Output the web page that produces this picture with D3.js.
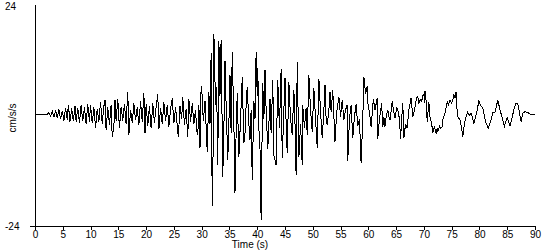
<!DOCTYPE html>
<html>
<head>
<meta charset="utf-8">
<script src="https://cdnjs.cloudflare.com/ajax/libs/d3/7.8.5/d3.min.js"></script>
<style>
  body { margin: 0; background: #fff; }
  svg text { font-family: "Liberation Sans", Arial, sans-serif; font-size: 10px; fill: #000; }
</style>
</head>
<body>
<svg id="chart" width="550" height="250"></svg>
<script>
// time (s) and acceleration (cm/s/s)
var times = [
  0, 2.2, 2.5, 2.8, 3.1, 3.4, 3.7, 4.0, 4.3, 4.6, 4.9, 5.2, 5.5, 5.8, 6.0, 6.3, 6.6, 6.9, 7.2, 7.4,
  7.7, 8.0, 8.3, 8.6, 8.9, 9.2, 9.5, 9.8, 10.0,
  10.3, 10.6, 10.9, 11.2, 11.5, 11.8, 12.1, 12.4, 12.6, 12.8, 13.1, 13.4, 13.7, 13.9, 14.2, 14.4, 14.6, 14.9, 15.2, 15.5,
  15.8, 16.1, 16.4, 16.7, 16.9, 17.2, 17.5, 17.8, 18.1, 18.4, 18.7, 19.0, 19.3, 19.6, 19.8, 20.0,
  20.3, 20.6, 20.9, 21.2, 21.5, 21.8, 22.1, 22.3, 22.6, 22.9, 23.2, 23.5, 23.8, 24.1, 24.4, 24.7, 25.0, 25.3,
  25.6, 25.8, 26.1, 26.4, 26.6, 26.9, 27.2, 27.5, 27.7, 28.0, 28.3, 28.6, 28.9, 29.1, 29.3, 29.5, 29.7, 29.9,
  30.0, 30.3, 30.6, 31.0, 31.3, 31.5, 31.7, 31.9, 32.0, 32.2, 32.5, 32.7, 32.9, 33.1, 33.3, 33.5, 33.8, 34.0,
  34.2, 34.4, 34.7, 34.9, 35.1, 35.3, 35.5, 35.8, 36.0, 36.2, 36.4, 36.7, 37.0, 37.3, 37.6, 37.8, 38.0, 38.2,
  38.5, 38.7, 38.9, 39.1, 39.4, 39.6, 39.8, 40.0, 40.1, 40.3, 40.5, 40.7, 40.9, 41.0, 41.2, 41.4, 41.6, 41.9,
  42.1, 42.3, 42.5, 42.8, 43.0, 43.4, 43.7, 44.0, 44.3, 44.5, 44.8, 45.0, 45.2, 45.4, 45.7, 46.0, 46.3, 46.6,
  46.8, 47.0, 47.2, 47.5, 47.8, 48.1, 48.2, 48.5, 48.8, 49.0, 49.3, 49.6, 49.9, 50.2, 50.5, 50.8, 51.1, 51.4,
  51.7, 52.0, 52.2, 52.4, 52.6, 52.9, 53.1, 53.3, 53.6, 54.0, 54.3, 54.7, 55.0, 55.3, 55.6, 55.9, 56.2, 56.3,
  56.6, 56.9, 57.2, 57.5, 57.8, 58.1, 58.4, 58.7, 59.0, 59.2, 59.5, 59.8, 59.9,
  60.2, 60.5, 60.9, 61.2, 61.6, 61.7, 62.0, 62.4, 62.6, 62.8, 63.0, 63.2, 63.5, 63.7, 63.9, 64.3, 64.6, 64.8,
  65.1, 65.4, 65.6, 65.8, 66.0, 66.2, 66.4, 66.7, 67.0, 67.3, 67.7, 68.0, 68.3, 68.7, 68.9, 69.1, 69.3, 69.6,
  69.8, 70.0, 70.1, 70.2, 70.4, 70.6, 70.9, 71.1, 71.4, 71.6, 71.9, 72.2, 72.4, 72.5, 72.8, 73.0, 73.3, 73.4,
  73.8, 74.2, 74.4, 74.7, 75.0, 75.2, 75.4, 75.6, 75.8, 76.0, 76.1, 76.5, 76.8, 77.0, 77.3, 77.6, 77.9, 78.2,
  78.5, 79.0, 79.3, 79.6, 79.9, 80.2, 80.6, 81.1, 81.6, 82.0, 82.4, 82.8, 83.0, 83.3, 83.7, 84.1, 84.5, 85.0,
  85.5, 86.0, 86.3, 86.6, 86.9, 87.2, 87.5, 87.8, 88.2, 88.6, 89.1, 90.0
];
var accel = [
  0, 0, 0.4, -0.4, 0.7, -0.6, 0.9, -0.8, 1.1, -1.0, 0.8, -1.3, 1.4, -1.1, 2.1, -1.5, 1.3, -1.4, 1.8, -1.5,
  1.4, -1.8, 2.0, -1.4, 1.6, -2.0, 2.2, -1.6, 2.0,
  -1.9, 1.6, -2.9, 1.2, -1.5, 2.7, -2.0, 1.8, 3.1, -3.4, 1.5, -2.2, 2.0, -4.9, -2.5, 3.1, -1.5, 3.4, -2.9, 1.6,
  -1.3, 2.2, -2.0, 4.9, -4.4, 1.0, -1.8, 2.4, -1.2, 1.5, -2.3, 2.9, -1.6, 4.6, -4.0, 2.2,
  -2.4, 1.8, -3.0, 2.5, -1.8, 1.6, 4.4, -3.2, 1.4, -2.0, 2.6, -1.4, 2.0, -2.6, 1.2, 3.5, -1.9, 1.5,
  -2.4, -4.9, 1.8, -1.0, 3.8, -2.2, 1.2, -4.9, 3.3, -1.5, 2.4, -2.0, 1.0, -3.4, -4.4, 2.0, -7.2, 6.2,
  5.9, -1.5, 3.0, -8.0, 4.9, -2.0, 13.3, -19.6, -16.5, 17.4, 2.0, 6.0, -10.9, 15.9, 4.0, 16.1, -13.5, -3.0,
  11.6, 2.0, -9.8, -2.0, 8.5, -4.0, 13.5, -2.0, -16.8, -4.0, 4.6, -9.2, -1.0, 8.0, -6.2, -4.0, 2.0, 6.0,
  -2.0, -5.5, 1.0, -14.2, 3.0, -1.0, 13.5, 4.0, 10.0, -3.0, -7.5, -22.6, -2.0, 6.8, -1.0, 9.6, 1.0, -7.5,
  -2.0, 3.4, -4.0, 7.5, -8.8, -10.9, 7.5, -3.0, 9.8, -9.4, 1.0, 7.9, -2.0, -8.3, 7.0, -1.0, -4.4, 5.3,
  -2.0, -13.1, 11.4, -9.2, -2.0, -10.9, 2.0, -3.0, 1.4, -4.4, 8.5, 1.0, -3.8, 5.7, -1.0, -7.2, 7.7, 0.5,
  -5.1, 1.0, 6.4, -1.0, -2.3, 1.0, 4.9, 0.5, 5.3, -5.9, 0.5, 3.8, -0.5, 3.1, -1.2, 1.0, 2.1, -10.1,
  -1.0, 2.0, -5.1, -0.5, 2.2, -2.5, -1.0, -10.5, -1.0, 8.1, 4.5, 6.1, 2.5,
  0.5, -2.7, 3.3, 1.0, 3.5, -5.2, -1.0, 2.5, -2.7, -0.5, -2.6, -0.5, 1.0, -0.5, -1.2, 2.8, 0.5, -0.8,
  1.5, 0.5, -1.0, -5.3, -1.0, 2.5, -5.1, -2.0, -2.9, 1.0, 3.6, -0.5, 1.0, 3.6, 3.8, 2.5, 3.2, 2.8,
  4.2, 4.4, 2.5, 5.0, 3.0, -1.6, 2.7, -0.5, -2.0, -3.9, -2.5, -4.1, -3.0, -3.8, -2.5, -3.0, -2.6, -1.2,
  0.3, 2.7, 2.0, 3.1, 2.5, 3.0, 4.2, 3.5, 4.9, 0.3, -0.5, -1.2, -3.0, -4.9, -2.0, -0.5, 0.5, -0.2,
  0.3, -1.9, -0.5, 1.0, 3.0, 2.0, 1.4, -1.5, -3.0, -1.5, 0.4, 0.5, 1.5, 3.1, 1.0, -0.7, -2.5, -0.7,
  -2.5, 0.0, 1.5, 2.5, 2.2, 0.5, -1.6, 0.3, 0.6, 0.5, 0.1, 0.0
];
var xTicks = [0, 5, 10, 15, 20, 25, 30, 35, 40, 45, 50, 55, 60, 65, 70, 75, 80, 85, 90];
var yLabels = [24, -24];

var svg = d3.select("#chart");
var x = d3.scaleLinear().domain([0, 90]).range([35, 535]);
var y = d3.scaleLinear().domain([-24, 24]).range([226, 3]);

// axes
svg.append("line")
    .attr("x1", x(0)).attr("x2", x(0))
    .attr("y1", 5).attr("y2", y(-24))
    .attr("stroke", "#000").attr("shape-rendering", "crispEdges");

var xAxis = d3.axisBottom(x).tickValues(xTicks).tickSize(4).tickSizeOuter(0).tickPadding(1);
var gx = svg.append("g").attr("transform", "translate(0," + y(-24) + ")").call(xAxis);
gx.select(".domain").remove();
gx.selectAll("line").attr("shape-rendering", "crispEdges");
gx.selectAll("text").style("font-family", "Liberation Sans, Arial, sans-serif").style("font-size", "10px");
gx.append("line")
    .attr("x1", x(0) - 5).attr("x2", x(90))
    .attr("y1", 0).attr("y2", 0)
    .attr("stroke", "#000").attr("shape-rendering", "crispEdges");

// only the end values are labelled on the y axis
svg.selectAll(".ylab")
    .data(yLabels)
    .enter().append("text")
    .attr("class", "ylab")
    .attr("x", 5)
    .attr("y", function (d) { return d > 0 ? y(d) + 3 : y(d); })
    .attr("dy", "0.35em")
    .text(function (d) { return d; });

svg.append("text")
    .attr("transform", "translate(16,118) rotate(-90)")
    .attr("text-anchor", "middle")
    .text("cm/s/s");

svg.append("text")
    .attr("x", 250).attr("y", 248)
    .attr("text-anchor", "middle")
    .text("Time (s)");

// trace
var line = d3.line()
    .x(function (d, i) { return x(times[i]); })
    .y(function (d) { return y(d); });

svg.append("path")
    .datum(accel)
    .attr("d", line)
    .attr("fill", "none")
    .attr("stroke", "#000")
    .attr("stroke-width", 1)
    .attr("shape-rendering", "crispEdges");
</script>
</body>
</html>
